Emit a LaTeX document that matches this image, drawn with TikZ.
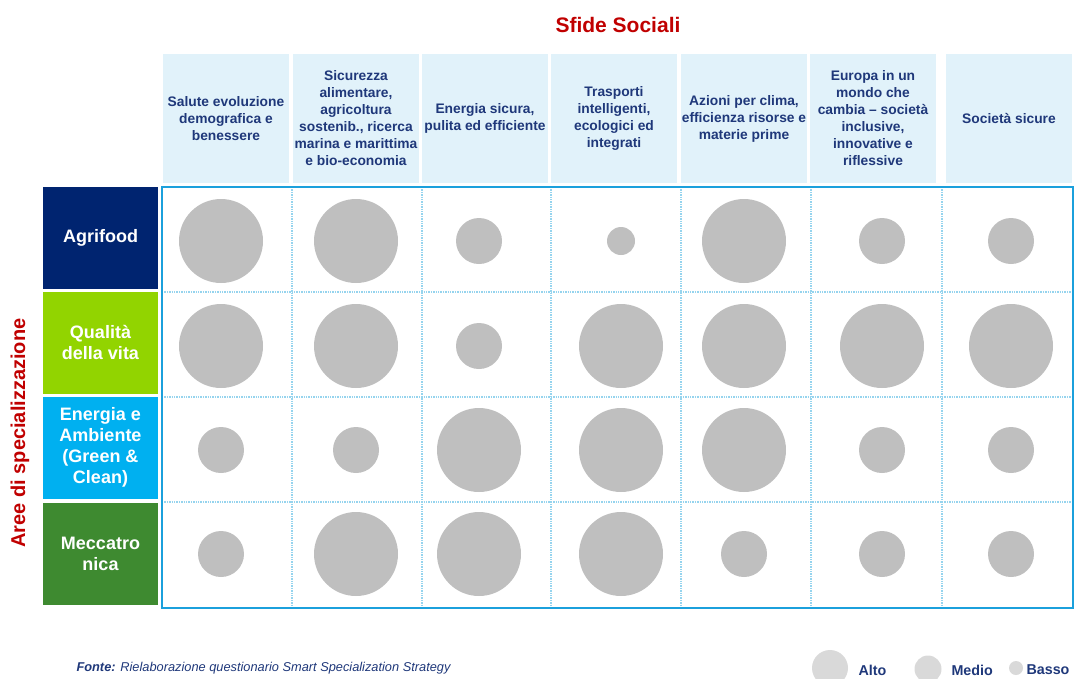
\documentclass[tikz,border=0pt]{standalone}
\usepackage{fontspec}
\setmainfont{Liberation Sans}
\usetikzlibrary{positioning}
\definecolor{headbg}{RGB}{225,242,250}
\definecolor{headtxt}{RGB}{31,56,122}
\definecolor{sfred}{RGB}{192,0,0}
\definecolor{gridblue}{RGB}{27,160,220}
\definecolor{gridlight}{RGB}{150,212,238}
\definecolor{dotgray}{RGB}{191,191,191}
\definecolor{leggray}{RGB}{217,217,217}
\definecolor{agrifood}{RGB}{0,36,112}
\definecolor{qualita}{RGB}{146,212,0}
\definecolor{energia}{RGB}{0,176,240}
\definecolor{mecc}{RGB}{62,138,48}

\begin{document}
\begin{tikzpicture}
  [x=1pt, y=-1pt,
   head/.style={fill=headbg, text=headtxt, font=\fontsize{13.8}{17}\selectfont\bfseries,
     minimum width=126pt, minimum height=129pt, align=center, inner sep=0pt},
   area/.style={text=white, font=\fontsize{18}{21}\selectfont\bfseries,
     minimum width=115pt, minimum height=102pt, align=center, inner sep=0pt},
   dot/.style={circle, fill=dotgray, inner sep=0pt},
   legdot/.style={circle, fill=leggray, inner sep=0pt},
   legtxt/.style={anchor=west, text=headtxt, font=\fontsize{14.3}{16}\selectfont\bfseries}]
  \useasboundingbox (0,0) rectangle (1074,678);
  \def\colx{{221,356,479,621,744,882,1011}}
  \def\rowy{{241,346,450,554}}

  \node (title) at (618,25) [text=sfred, font=\fontsize{21}{24}\selectfont\bfseries] {Sfide Sociali};
  \node (side) at (20,433) [rotate=90, text=sfred, font=\fontsize{20}{23}\selectfont\bfseries] {Aree di specializzazione};

  \foreach \x/\txt [count=\i] in {226/{Salute evoluzione\\demografica e\\benessere},
      356/{Sicurezza\\alimentare,\\agricoltura\\sostenib., ricerca\\marina e marittima\\e bio-economia},
      485/{Energia sicura,\\pulita ed efficiente},
      614/{Trasporti\\intelligenti,\\ecologici ed\\integrati},
      744/{Azioni per clima,\\efficienza risorse e\\materie prime},
      873/{Europa in un\\mondo che\\cambia – società\\inclusive,\\innovative e\\riflessive},
      1009/{Società sicure}}
    \node (h\i) at (\x,118.5) [head] {\txt};

  \foreach \y/\col/\txt [count=\i] in {237.5/agrifood/Agrifood,
      342.5/qualita/{Qualità\\della vita},
      447.5/energia/{Energia e\\Ambiente\\(Green \&\\Clean)},
      554/mecc/{Meccatro\\nica}}
    \node (a\i) at (100.5,\y) [area, fill=\col] {\txt};

  \foreach \x in {292,422,551,681,811,942}
    \draw [gridlight, densely dotted, line width=1.4pt] (\x,187) -- (\x,608);
  \foreach \y in {292,397,502}
    \draw [gridlight, densely dotted, line width=1.4pt] (162,\y) -- (1073,\y);
  \draw [gridblue, line width=2.4pt] (162,187) rectangle (1073,608);

  \foreach \sizes [count=\r] in {{84,84,46,28,84,46,46},{84,84,46,84,84,84,84},
      {46,46,84,84,84,46,46},{46,84,84,84,46,46,46}}
    \foreach \d [count=\c] in \sizes
      \node (c\r\c) at ({\colx[\c-1]},{\rowy[\r-1]}) [dot, minimum size=\d pt] {};

  \node (fonte) at (73,668) [anchor=west, text=headtxt, font=\fontsize{12.8}{14}\selectfont\itshape]
    {\textbf{Fonte:} Rielaborazione questionario Smart Specialization Strategy};

  \node (alto) at (830,668) [legdot, minimum size=36pt] {};
  \node (altotxt) at (855,670) [legtxt] {Alto};
  \node (medio) at (928,669) [legdot, minimum size=27pt] {};
  \node (mediotxt) at (948,670) [legtxt] {Medio};
  \node (basso) at (1016,668) [legdot, minimum size=14pt] {};
  \node (bassotxt) at (1023,670) [legtxt] {Basso};
\end{tikzpicture}
\end{document}
